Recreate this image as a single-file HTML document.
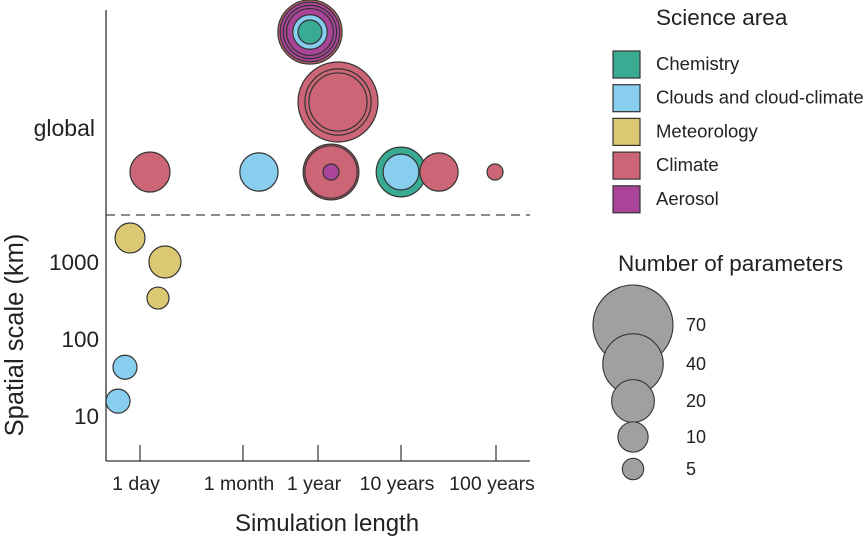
<!DOCTYPE html>
<html><head><meta charset="utf-8"><style>
body{margin:0;background:#fff}
svg{display:block;font-family:"Liberation Sans",sans-serif}
</style></head><body>
<svg id="chart" width="867" height="539" viewBox="0 0 867 539">
<g id="axes"></g>
<g id="marks"></g>
<g id="legend"></g>
</svg>
<script>
const xTickLabels = ["1 day","1 month","1 year","10 years","100 years"];
const xTickLogDays = [0, 1.477, 2.562, 3.562, 4.562];
const yTickLabels = ["1000","100","10"];
const yTickValues = [1000,100,10];
const categories = ["Chemistry","Clouds and cloud-climate","Meteorology","Climate","Aerosol"];
const catColors = ["#3aab93","#87ceef","#dcc872","#cc6677","#aa4499"];
const sizeLegendValues = [70,40,20,10,5];
// bubbles: x = log10(days), y = km or global row level
const bubbleX = [2.446,2.446,2.446,2.446,2.446,2.446, 2.803,2.803,2.803, 0.143, 1.708, 2.719,2.719,2.719, 3.562,3.562, 3.962, 4.552, -0.143,0.358,0.258, -0.215,-0.315];
const bubbleGlobalLevel = [2,2,2,2,2,2, 1,1,1, 0, 0, 0,0,0, 0,0, 0, 0, null,null,null, null,null];
const bubbleKm = [null,null,null,null,null,null, null,null,null, null, null, null,null,null, null,null, null, null, 2050,1000,340, 43,15.6];
const bubbleParams = [45,39,31,24,13,6.3, 70,48,37, 17.5, 16, 34,30,2.8, 27,14, 16, 2.8, 9.8,11.2,5.3, 6.3,6.3];
const bubbleCat = [3,4,4,4,1,0, 3,3,3, 3, 1, 3,3,4, 0,1, 3, 3, 2,2,2, 1,1];

const NS="http://www.w3.org/2000/svg";
function mk(tag,attrs,parent,text){const e=document.createElementNS(NS,tag);for(const k in attrs)e.setAttribute(k,attrs[k]);if(text!==undefined)e.textContent=text;parent.appendChild(e);return e;}
const xPix=[140,243,318,401,496];
function xScale(v){
  const t=xTickLogDays;
  let i=0; if(v<=t[0]) i=0; else if(v>=t[t.length-1]) i=t.length-2; else {while(v>t[i+1])i++;}
  return xPix[i]+(v-t[i])/(t[i+1]-t[i])*(xPix[i+1]-xPix[i]);
}
function yScale(km){return 262-(Math.log10(km)-3)*77;}
const levelY=[172,102,32];
function rScale(n){return 4.78*Math.sqrt(n);}

const axes=document.getElementById('axes');
let e;
e=mk('line',{x1:106,y1:10,x2:106,y2:461,stroke:'#333','stroke-width':1.3},axes);

e=mk('line',{x1:106,y1:461,x2:530,y2:461,stroke:'#333','stroke-width':1.3},axes);

e=mk('line',{x1:106,y1:215,x2:530,y2:215,stroke:'#444','stroke-width':1.3,'stroke-dasharray':'9,6'},axes);

xTickLabels.forEach((l,i)=>{
  const x=xScale(xTickLogDays[i]);
  const t=mk('line',{x1:x,y1:445,x2:x,y2:461,stroke:'#333','stroke-width':1.2},axes);
  
  const tx=mk('text',{x:x-4,y:490,'font-size':19.5,'text-anchor':'middle',fill:'#222'},axes,l);
  
});
yTickLabels.forEach((l,i)=>{
  const tx=mk('text',{x:99,y:yScale(yTickValues[i])+8,'font-size':22.5,'text-anchor':'end',fill:'#222'},axes,l);
  
});
e=mk('text',{x:95,y:136,'font-size':23,'text-anchor':'end',fill:'#222'},axes,'global');

e=mk('text',{x:327,y:531,'font-size':24,'text-anchor':'middle',fill:'#222'},axes,'Simulation length');

e=mk('text',{x:0,y:0,'font-size':25.5,'text-anchor':'middle',fill:'#222',transform:'translate(23,335) rotate(-90)'},axes,'Spatial scale (km)');


const marks=document.getElementById('marks');
bubbleX.forEach((xv,i)=>{
  const cy=bubbleGlobalLevel[i]!==null?levelY[bubbleGlobalLevel[i]]:yScale(bubbleKm[i]);
  const c=mk('circle',{cx:xScale(xv),cy:cy,r:rScale(bubbleParams[i]),fill:catColors[bubbleCat[i]],stroke:'#333','stroke-width':1.2},marks);
  
  
});

const lg=document.getElementById('legend');
e=mk('text',{x:656,y:25,'font-size':22.5,fill:'#222'},lg,'Science area');

categories.forEach((c,i)=>{
  const y=64+i*33.7;
  const r=mk('rect',{x:613,y:y-13,width:27,height:27,fill:catColors[i],stroke:'#333','stroke-width':1.2},lg);
  
  const t=mk('text',{x:656,y:y+6,'font-size':18.5,fill:'#222'},lg,c);
  
});
e=mk('text',{x:618,y:271,'font-size':22.5,fill:'#222'},lg,'Number of parameters');

const sizeCy=[325,364,401,437,469];
sizeLegendValues.forEach((v,i)=>{
  const c=mk('circle',{cx:633,cy:sizeCy[i],r:rScale(v),fill:'#a0a0a0',stroke:'#333','stroke-width':1.1},lg);
  
  const t=mk('text',{x:686,y:sizeCy[i]+6,'font-size':18,fill:'#222'},lg,String(v));
  
});
</script>
</body></html>
